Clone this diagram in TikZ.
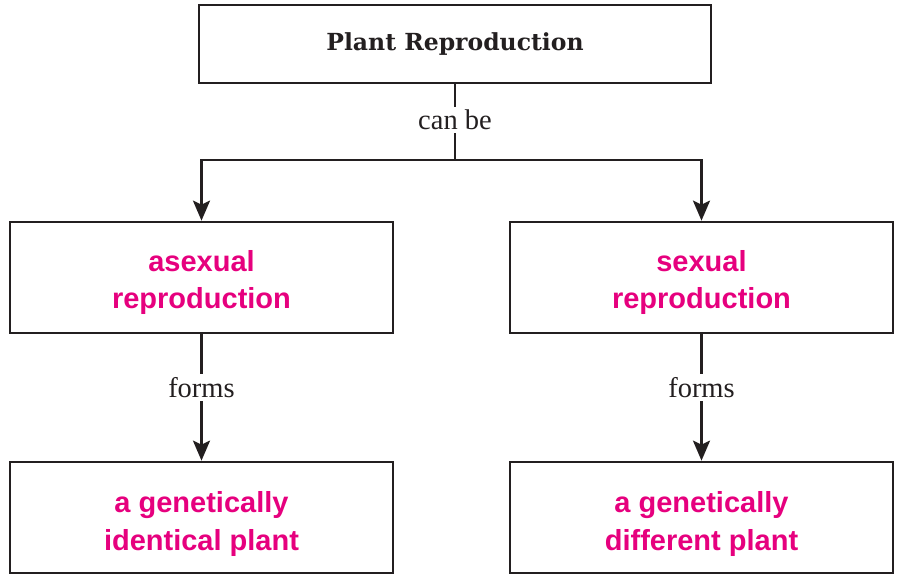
\documentclass[tikz,border=0pt]{standalone}
\usepackage{fontspec}
\setmainfont{DejaVu Serif}
\newfontfamily\pinkfont{Liberation Sans}
\newfontfamily\titlefont{DejaVu Serif}
\newfontfamily\labelfont{Liberation Serif}
\usetikzlibrary{arrows.meta}
\definecolor{ink}{HTML}{231F20}
\definecolor{hotpink}{HTML}{E6007E}
\tikzset{
  box/.style={draw=ink, line width=2.7pt, rectangle, inner sep=0pt,
              minimum width=383pt, minimum height=111pt},
  pinktext/.style={align=center, text=hotpink, inner sep=0pt,
                   font=\pinkfont\bfseries\fontsize{29}{36}\selectfont},
  linkword/.style={fill=white, inner sep=3pt, text=ink,
                   font=\labelfont\fontsize{28.5}{30}\selectfont},
  conn/.style={draw=ink, line width=2.7pt},
  arr/.style={conn, -{Stealth[length=20pt, width=17pt, inset=4pt]}}
}
\begin{document}
\begin{tikzpicture}[x=1pt, y=-1pt]
  \useasboundingbox (0,0) rectangle (899,575);
  % root concept
  \node[box, minimum width=512pt, minimum height=78pt,
        font=\titlefont\bfseries\fontsize{23.5}{26}\selectfont, text=ink]
        (root) at (455,44) {Plant Reproduction};
  % second level
  \node[box, label={[pinktext, yshift=-5pt]center:{asexual\\reproduction}}]
        (asex) at (201.5,277.5) {};
  \node[box, label={[pinktext, yshift=-5pt]center:{sexual\\reproduction}}]
        (sex)  at (701.5,277.5) {};
  % third level
  \node[box, label={[pinktext, yshift=-6.5pt,
        font=\pinkfont\bfseries\fontsize{29}{38}\selectfont]center:{a genetically\\identical plant}}]
        (same) at (201.5,517.5) {};
  \node[box, label={[pinktext, yshift=-6.5pt,
        font=\pinkfont\bfseries\fontsize{29}{38}\selectfont]center:{a genetically\\different plant}}]
        (diff) at (701.5,517.5) {};
  % branching connector from the root
  \coordinate (split) at (455,160);
  \draw[conn] (root.south) -- (split)
        node[linkword, pos=0.47] (canbe) {can be};
  \draw[arr] (split) -| (asex.north);
  \draw[arr] (split) -| (sex.north);
  % result connectors
  \draw[arr] (asex.south) -- (same.north)
        node[linkword, pos=0.42] (formsL) {forms};
  \draw[arr] (sex.south) -- (diff.north)
        node[linkword, pos=0.42] (formsR) {forms};
\end{tikzpicture}
\end{document}
